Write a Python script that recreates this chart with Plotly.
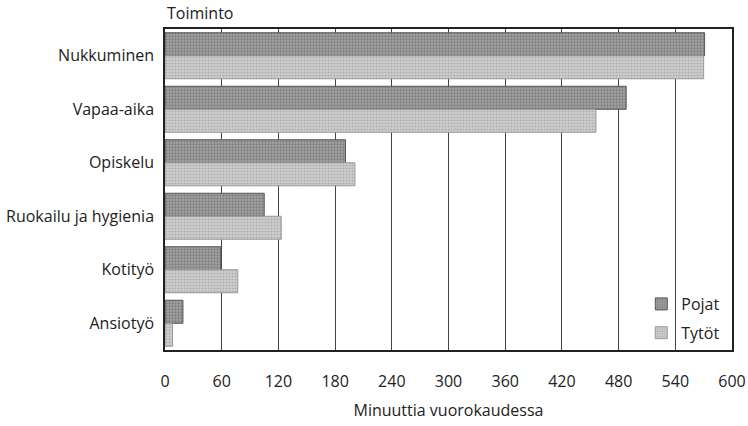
import plotly.graph_objects as go

categories = ["Nukkuminen", "Vapaa-aika", "Opiskelu", "Ruokailu ja hygienia", "Kotityö", "Ansiotyö"]
pojat = [571, 488, 191, 105, 59, 19]
tytot = [570, 456, 201, 123, 77, 8]
x_ticks = [0, 60, 120, 180, 240, 300, 360, 420, 480, 540, 600]

FONT = "Open Sans"
FS = 16

fig = go.Figure()
fig.add_trace(go.Bar(
    y=categories, x=pojat, orientation="h", name="Pojat", legendgroup="a",
    marker=dict(color="#9a9a9a",
                pattern=dict(shape=".", size=3, solidity=0.45, fgcolor="#555555", bgcolor="#a4a4a4"),
                line=dict(color="#555555", width=1)),
))
fig.add_trace(go.Bar(
    y=categories, x=tytot, orientation="h", name="Tytöt", legendgroup="b",
    marker=dict(color="#c4c4c4",
                pattern=dict(shape=".", size=3, solidity=0.4, fgcolor="#8a8a8a", bgcolor="#d0d0d0"),
                line=dict(color="#999999", width=1)),
))

fig.update_layout(
    width=748, height=426,
    margin=dict(l=165, r=16, t=29, b=76),
    paper_bgcolor="white", plot_bgcolor="white",
    barmode="group", bargap=0.14, bargroupgap=0,
    font=dict(family=FONT, size=FS, color="#222222"),
    showlegend=True,
    legend=dict(x=0.84, xanchor="left", y=0.0, yanchor="bottom",
                traceorder="grouped", tracegroupgap=5,
                bgcolor="rgba(0,0,0,0)", font=dict(size=FS, family=FONT),
                itemwidth=30),
    xaxis=dict(range=[0, 600], tickvals=x_ticks, ticktext=[str(v) for v in x_ticks],
               showgrid=True, gridcolor="#444444", gridwidth=1, automargin=False,
               zeroline=False, showline=True, linecolor="#222222", linewidth=1.5, mirror=True,
               ticks="", ticklabelstandoff=16,
               title=dict(text="Minuuttia vuorokaudessa", font=dict(size=FS, family=FONT), standoff=14)),
    yaxis=dict(autorange="reversed", showgrid=False, zeroline=False, automargin=False,
               showline=True, linecolor="#222222", linewidth=1.5, mirror=True,
               ticks="", ticklabelstandoff=6),
    annotations=[dict(text="Toiminto", xref="paper", yref="paper", x=0, y=1,
                      xanchor="left", yanchor="bottom", yshift=3, showarrow=False,
                      font=dict(size=FS, family=FONT))],
)

fig.write_html("out.html", config={"displayModeBar": False},
               post_script="document.body.style.margin='0';")
